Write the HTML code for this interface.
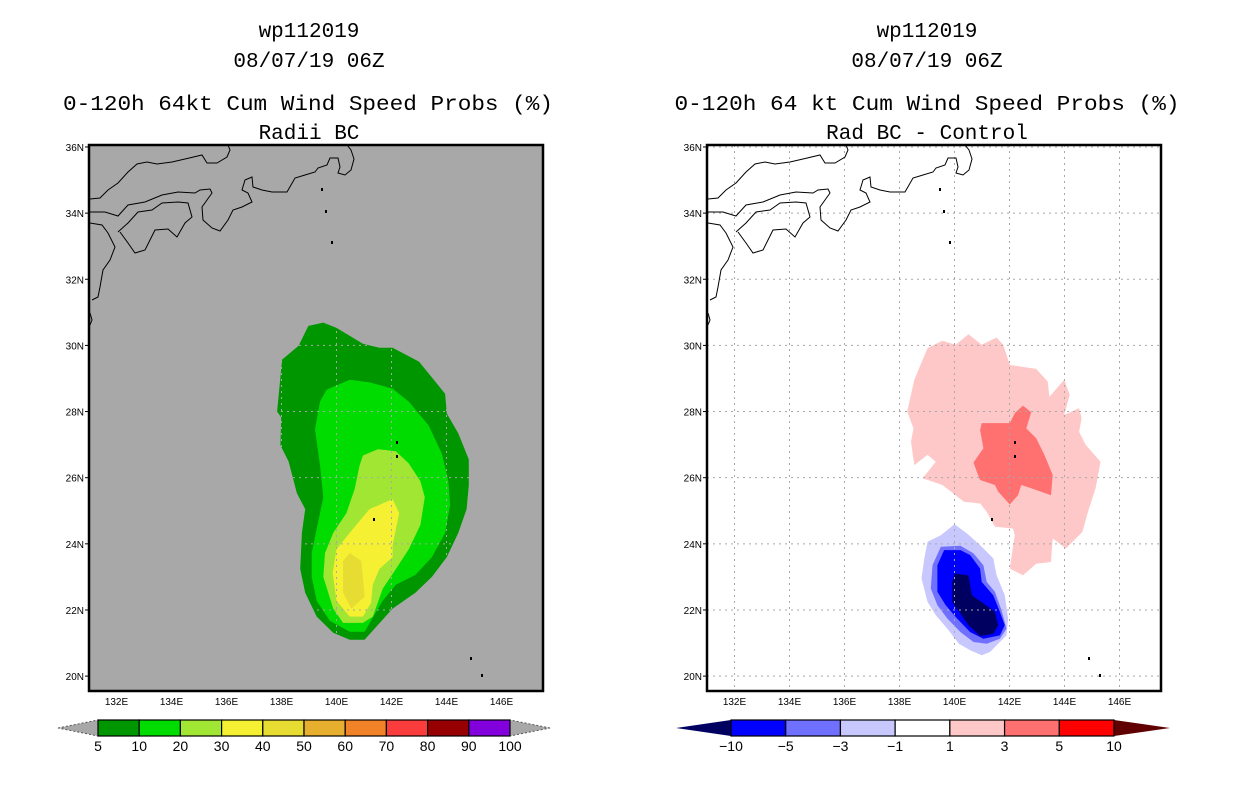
<!DOCTYPE html>
<html><head><meta charset="utf-8"><style>
html,body{margin:0;padding:0;background:#fff;}
svg{display:block;}
text{font-family:"Liberation Mono",monospace;fill:#000;}
.t{font-size:21px;}
.s{font-size:10px;font-family:"Liberation Sans",sans-serif;}
.cb{font-size:14px;font-family:"Liberation Sans",sans-serif;}
</style></head><body>
<svg id="root" width="1236" height="800" viewBox="0 0 1236 800">
<rect width="1236" height="800" fill="#fff"/>
<g>
<text class="t" x="309" y="37" text-anchor="middle">wp112019</text>
<text class="t" x="309" y="67" text-anchor="middle">08/07/19 06Z</text>
<text class="t" x="308" y="110" text-anchor="middle" textLength="490" lengthAdjust="spacingAndGlyphs">0-120h 64kt Cum Wind Speed Probs (%)</text>
<text class="t" x="309" y="139" text-anchor="middle">Radii BC</text>
</g>
<g>
<text class="t" x="927" y="37" text-anchor="middle">wp112019</text>
<text class="t" x="927" y="67" text-anchor="middle">08/07/19 06Z</text>
<text class="t" x="927" y="110" text-anchor="middle" textLength="505" lengthAdjust="spacingAndGlyphs">0-120h 64 kt Cum Wind Speed Probs (%)</text>
<text class="t" x="927" y="139" text-anchor="middle">Rad BC - Control</text>
</g>
<g id="left"></g>
<g id="right"></g>
<g id="cbL"></g>
<g id="cbR"></g>
</svg>
<script>
const NS="http://www.w3.org/2000/svg";
// contour polygons (lon, lat)
const prob5=[[138.98,30.59],[139.52,30.69],[140.0,30.53],[140.96,30.05],[141.56,29.93],[142.04,29.93],[143.0,29.51],[143.95,28.54],[144.01,27.94],[144.43,27.34],[144.81,26.55],[144.81,25.77],[144.73,25.05],[144.43,24.33],[144.01,23.6],[143.47,23.0],[142.87,22.52],[142.04,22.04],[141.02,21.1],[140.48,21.1],[139.88,21.31],[139.28,21.8],[138.86,22.52],[138.68,23.24],[138.74,24.33],[138.86,25.05],[138.56,25.53],[138.26,26.49],[137.96,26.98],[137.99,27.82],[137.84,28.0],[138.02,29.57],[138.62,29.99]];
const prob10=[[139.64,28.66],[140.48,28.96],[141.2,28.88],[142.04,28.69],[142.63,28.3],[143.35,27.58],[143.83,26.73],[144.07,25.89],[144.13,25.17],[143.95,24.33],[143.47,23.6],[142.87,23.06],[142.16,22.76],[141.68,22.28],[141.02,21.34],[140.48,21.34],[139.76,21.67],[139.28,22.28],[139.1,23.0],[139.1,23.72],[139.28,24.45],[139.52,25.41],[139.4,26.37],[139.22,27.46],[139.4,28.3]];
const prob20=[[140.96,26.67],[141.5,26.86],[142.16,26.8],[142.63,26.43],[143.05,25.89],[143.21,25.41],[143.05,24.57],[142.63,23.84],[142.16,23.24],[141.68,22.64],[141.32,21.8],[140.96,21.61],[140.24,21.61],[139.88,22.04],[139.52,23.0],[139.58,23.72],[139.88,24.33],[140.36,24.93],[140.66,25.65],[140.84,26.37]];
const prob30=[[141.2,25.05],[142.04,25.35],[142.28,24.93],[142.04,23.96],[142.04,23.6],[141.56,23.24],[141.32,22.76],[141.26,22.22],[140.96,21.8],[140.48,21.8],[140.0,22.28],[139.86,23.12],[140.0,23.84],[140.48,24.33]];
const prob40=[[140.48,23.72],[140.9,23.48],[141.02,22.4],[140.54,22.04],[140.24,22.52],[140.24,23.48]];
const diffP1=[[138.54,28.96],[139.02,29.92],[139.56,30.14],[140.04,30.02],[140.51,30.34],[140.99,30.02],[141.53,30.24],[141.77,30.02],[142.01,29.41],[142.97,29.29],[143.39,28.91],[143.45,28.45],[143.99,28.96],[144.19,28.51],[143.99,27.9],[144.53,28.1],[144.62,27.8],[144.53,27.39],[144.77,26.99],[145.31,26.48],[145.13,25.68],[144.89,25.07],[144.65,24.36],[144.05,23.86],[143.57,24.16],[143.51,23.45],[142.97,23.4],[142.49,23.05],[142.01,23.25],[142.19,24.26],[142.13,24.46],[141.47,24.52],[141.17,24.97],[140.93,25.22],[140.34,25.27],[139.56,25.78],[138.84,25.98],[139.32,26.48],[139.02,26.69],[138.54,26.38],[138.42,27.09],[138.51,27.49],[138.28,28.0]];
const diffP3=[[140.99,27.65],[142.01,27.65],[142.19,27.95],[142.49,28.18],[142.79,27.98],[142.61,27.49],[142.97,27.19],[143.27,26.69],[143.57,26.08],[143.51,25.47],[142.79,25.68],[142.43,25.78],[142.31,25.47],[142.01,25.19],[141.59,25.58],[141.47,25.78],[140.93,25.93],[140.81,26.18],[140.69,26.46],[141.05,26.89],[140.93,27.44]];
const diffM1=[[140.0,24.59],[140.46,24.31],[140.93,23.96],[141.41,23.56],[141.53,23.05],[141.83,22.44],[141.95,21.74],[141.89,21.23],[141.65,21.03],[141.29,20.73],[140.99,20.63],[140.57,20.78],[140.16,20.98],[139.74,21.43],[139.32,21.84],[139.02,22.24],[138.8,22.95],[138.9,23.56],[139.02,24.06],[139.5,24.26]];
const diffM3=[[139.5,23.91],[140.22,23.94],[140.69,23.71],[141.05,23.35],[141.17,22.85],[141.47,22.55],[141.71,21.99],[141.89,21.43],[141.65,21.13],[141.17,20.98],[140.69,21.03],[140.22,21.33],[139.74,21.74],[139.38,22.14],[139.14,22.65],[139.2,23.35]];
const diffM5=[[139.62,23.81],[140.22,23.81],[140.57,23.66],[140.93,23.25],[140.99,22.85],[141.41,22.44],[141.65,21.94],[141.83,21.54],[141.65,21.23],[141.05,21.13],[140.57,21.33],[140.1,21.74],[139.68,22.14],[139.38,22.55],[139.38,23.35]];
const diffM10=[[140.0,23.1],[140.51,23.05],[140.63,22.44],[140.99,22.24],[141.47,21.94],[141.59,21.54],[141.41,21.28],[140.93,21.21],[140.51,21.54],[140.22,21.89],[139.92,22.24],[139.92,22.85]];
const lonTicks=[132,134,136,138,140,142,144,146];
const latTicks=[20,22,24,26,28,30,32,34,36];
const probLevels=["5","10","20","30","40","50","60","70","80","90","100"];
const probColors=["#009600","#00dc00","#a0e632","#f5f032","#e6dc32","#e6af2d","#f08228","#fa3c3c","#960000","#8200dc"];
const diffLevels=["\u221210","\u22125","\u22123","\u22121","1","3","5","10"];
const diffColors=["#0000ff","#7070ff","#c8c8ff","#ffffff","#ffc8c8","#ff7070","#ff0000"];

const FW=454,FH=546,FY=145;
const X=lon=>(lon-131)*27.5, Y=lat=>(36.06-lat)*33.07;
// coastline polylines in frame pixel coords (geography outline, not data)
const coast=[
[[1,54],[11,53],[19,45],[29,38],[39,27],[48,19],[58,17],[68,19],[83,17],[96,14],[113,10],[118,18],[128,18],[138,12],[141,5],[139,0]],
[[1,67],[16,67],[29,71],[39,60],[56,57],[73,50],[89,47],[106,48],[111,45],[121,44],[123,48],[113,62],[114,75],[123,83],[131,86],[139,75],[144,65],[153,62],[163,57],[159,48],[153,45],[156,35],[163,32],[164,42],[173,45],[183,47],[198,47],[206,33],[216,30],[226,27],[229,23],[238,20],[241,13],[249,13],[251,22],[249,28],[256,30],[262,25],[265,14],[262,5],[258,0]],
[[29,87],[39,78],[49,67],[63,65],[73,58],[89,57],[99,58],[103,72],[96,78],[88,92],[79,84],[66,85],[56,105],[46,108],[39,98],[31,87]],
[[1,78],[13,80],[19,88],[26,102],[21,115],[14,125],[11,142],[9,152],[3,155]],
[[1,168],[3,175],[1,180]]
];
const dots=[[232,43],[236,65],[242,96],[307,296],[307,310],[284,373],[381,512],[392,529]];

function el(tag,attrs,parent){const e=document.createElementNS(NS,tag);for(const k in attrs)e.setAttribute(k,attrs[k]);parent.appendChild(e);return e;}
function poly(g,pts,fill,name){
  const p=el("polygon",{points:pts.map(q=>X(q[0]).toFixed(1)+","+Y(q[1]).toFixed(1)).join(" "),fill:fill},g);
  
  
}
function panel(id,x0,bg,fills){
  const root=document.getElementById(id);
  const g=el("g",{transform:`translate(${x0},${FY})`},root);
  el("rect",{x:0,y:0,width:FW,height:FH,fill:bg},g);
  fills.forEach(f=>poly(g,f[0],f[1],f[2]));
  // grid
  lonTicks.forEach(l=>{const gl=el("line",{x1:X(l),x2:X(l),y1:0,y2:FH,stroke:"#a8a8a8","stroke-dasharray":"2,4","stroke-width":1},g);
    
    });
  latTicks.forEach(l=>{const gl=el("line",{x1:0,x2:FW,y1:Y(l),y2:Y(l),stroke:"#a8a8a8","stroke-dasharray":"2,4","stroke-width":1},g);
    
    });
  coast.forEach(c=>{const pl=el("polyline",{points:c.map(q=>q.join(",")).join(" "),fill:"none",stroke:"#000","stroke-width":1},g);
    
    });
  dots.forEach(d=>{const r=el("rect",{x:d[0],y:d[1],width:2,height:3,fill:"#000"},g);
    
    });
  el("rect",{x:0,y:0,width:FW,height:FH,fill:"none",stroke:"#000","stroke-width":2.5},g);
  latTicks.forEach(l=>{
    el("line",{x1:-4,x2:0,y1:Y(l),y2:Y(l),stroke:"#000"},g);
    const t=el("text",{x:-5,y:Y(l)+4,class:"s","text-anchor":"end"},g);t.textContent=l+"N";
    
    
  });
  lonTicks.forEach(l=>{
    const t=el("text",{x:X(l),y:FH+14,class:"s","text-anchor":"middle"},g);t.textContent=l+"E";
    
    
  });
}
panel("left",89,"#a8a8a8",[[prob5,probColors[0],"prob-5-contour"],[prob10,probColors[1],"prob-10-contour"],[prob20,probColors[2],"prob-20-contour"],[prob30,probColors[3],"prob-30-contour"],[prob40,probColors[4],"prob-40-contour"]]);
panel("right",707,"#ffffff",[[diffP1,"#ffc8c8","diff-plus1-contour"],[diffP3,"#ff7070","diff-plus3-contour"],[diffM1,"#c8c8ff","diff-minus1-contour"],[diffM3,"#7070ff","diff-minus3-contour"],[diffM5,"#0000ff","diff-minus5-contour"],[diffM10,"#000060","diff-minus10-contour"]]);

function colorbar(id,x0,x1,tipL,tipR,colors,labels,triL,triR,dash){
  const g=document.getElementById(id);
  const y0=720,y1=736,ym=728,w=(x1-x0)/colors.length;
  const a=el("polygon",{points:`${tipL},${ym} ${x0},${y0} ${x0},${y1}`,fill:triL,stroke:dash?"#555":"none","stroke-dasharray":dash?"2,2":"none"},g);
  
  
  const b=el("polygon",{points:`${tipR},${ym} ${x1},${y0} ${x1},${y1}`,fill:triR,stroke:dash?"#555":"none","stroke-dasharray":dash?"2,2":"none"},g);
  
  
  colors.forEach((c,i)=>{
    const r=el("rect",{x:x0+i*w,y:y0,width:w,height:y1-y0,fill:c,stroke:"#000","stroke-width":1.2},g);
    
    
  });
  labels.forEach((s,i)=>{
    const t=el("text",{x:x0+i*w,y:751,class:"cb","text-anchor":"middle"},g);t.textContent=s;
    
    
  });
}
colorbar("cbL",98,510,58,550,probColors,probLevels,"#a8a8a8","#a8a8a8",true);
colorbar("cbR",731,1114,676,1170,diffColors,diffLevels,"#000060","#600000",false);
</script>
</body></html>
